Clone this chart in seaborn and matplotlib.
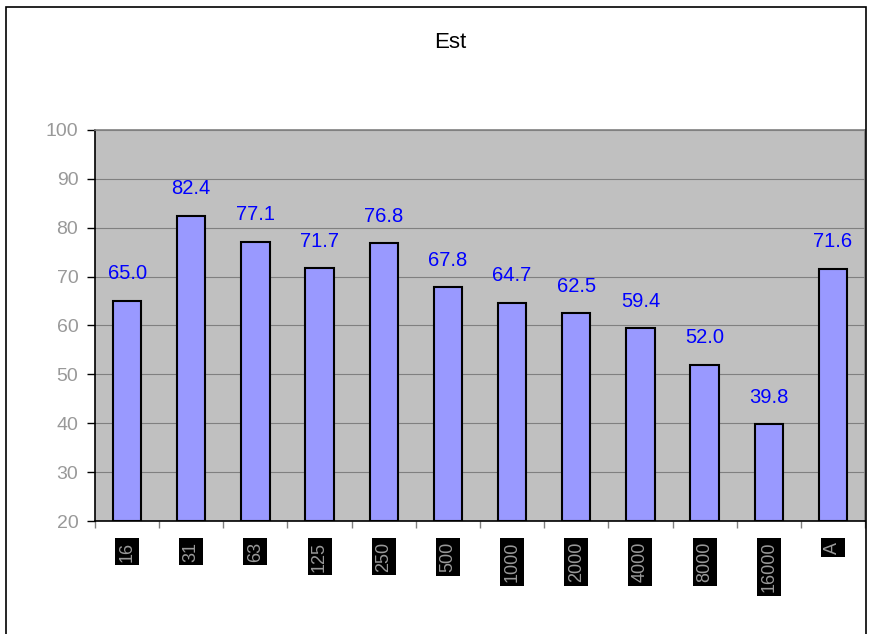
import matplotlib
matplotlib.use("Agg")
import matplotlib.pyplot as plt
import seaborn as sns
import pandas as pd
import numpy as np
from matplotlib.patches import Rectangle

categories = ["16", "31", "63", "125", "250", "500", "1000", "2000", "4000", "8000", "16000", "A"]
values = [65.0, 82.4, 77.1, 71.7, 76.8, 67.8, 64.7, 62.5, 59.4, 52.0, 39.8, 71.6]
title = "Est"

df = pd.DataFrame({"cat": categories, "val": values})

sns.set_style("white")
plt.rcParams['font.family'] = ['Liberation Sans', 'DejaVu Sans']

fig = plt.figure(figsize=(8.78, 6.34), dpi=100)
ax = fig.add_axes([95/878, 1-521/634, (865-95)/878, (521-130)/634])

sns.barplot(data=df, x="cat", y="val", ax=ax, color="#9999FF", width=0.44,
            edgecolor="black", linewidth=1.5, saturation=1)

# bars start from baseline 20
for p in ax.patches:
    h = p.get_height()
    p.set_y(20)
    p.set_height(h - 20)

ax.set_ylim(20, 100)
ax.set_xlim(-0.5, len(categories) - 0.5)
ax.set_facecolor("#C0C0C0")
ax.set_yticks(np.arange(20, 101, 10))
ax.yaxis.grid(True, color="#808080", linewidth=0.8)
ax.set_axisbelow(True)
ax.set_xlabel("")
ax.set_ylabel("")

for s in ["top", "right"]:
    ax.spines[s].set_color("#808080")
    ax.spines[s].set_linewidth(1.2)
for s in ["left", "bottom"]:
    ax.spines[s].set_color("black")
    ax.spines[s].set_linewidth(1.2)

ax.tick_params(axis="y", direction="out", length=6, width=1, color="black",
               labelsize=14, labelcolor="#999999", left=True, pad=6)
ax.set_xticks(np.arange(len(categories)))
ax.set_xticklabels(categories, rotation=90, fontsize=13, color="#999999",
                   va="top", ha="center")
for t in ax.get_xticklabels():
    t.set_bbox(dict(facecolor="black", edgecolor="none", pad=2.5))
ax.tick_params(axis="x", which="major", length=0, pad=15)
ax.set_xticks(np.arange(len(categories) + 1) - 0.5, minor=True)
ax.tick_params(axis="x", which="minor", direction="out", length=5, width=1, color="#808080", bottom=True)

for i, v in enumerate(values):
    ax.text(i, v + 3.6, f"{v:.1f}", ha="center", va="bottom", color="#0000FF", fontsize=14.5)

fig.text(450/878, 1-42/634, title, ha="center", va="center", fontsize=16, color="black")

fig.patches.append(Rectangle((6/878, -0.01), (866-6)/878, 1-7/634+0.01, transform=fig.transFigure,
                             fill=False, edgecolor="black", linewidth=1.2))

fig.savefig("out.png", dpi=100)
